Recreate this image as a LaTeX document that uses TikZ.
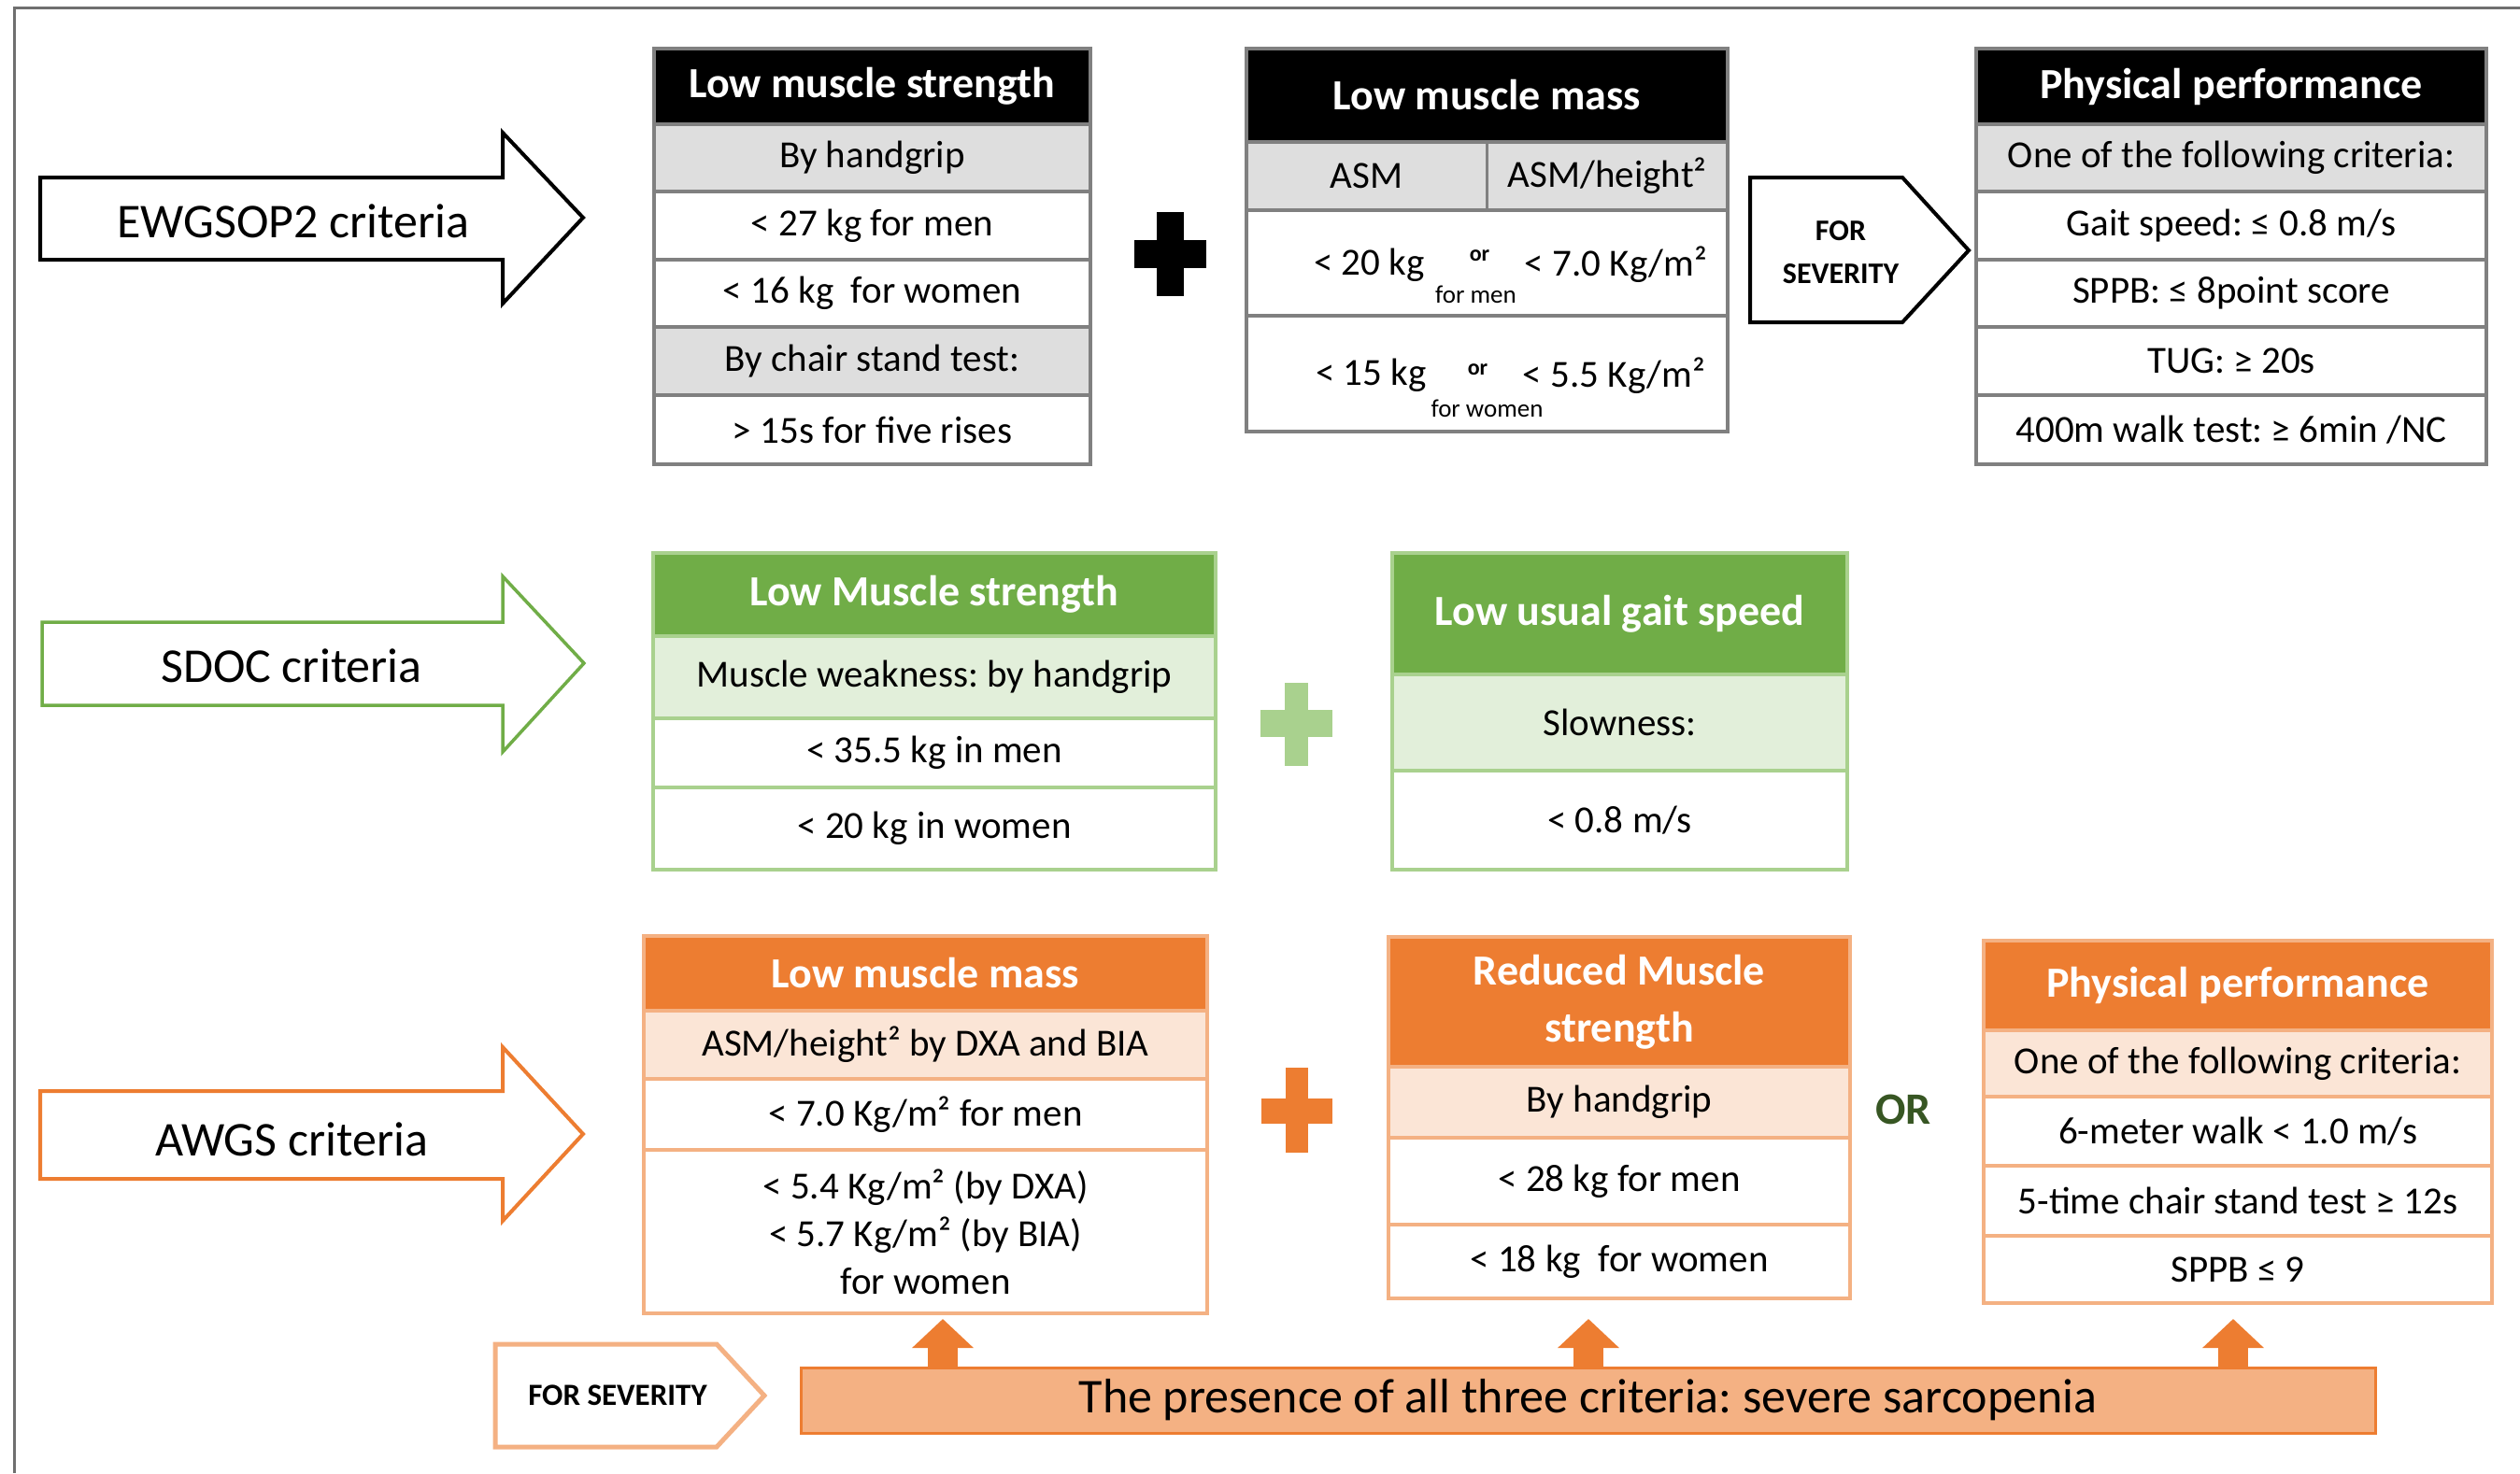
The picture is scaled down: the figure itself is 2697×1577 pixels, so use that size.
\documentclass[tikz,border=0pt]{standalone}
\usepackage{fontspec}
\setmainfont{Carlito}
\usetikzlibrary{arrows.meta,positioning,calc}
\definecolor{frameGray}{HTML}{6F6F6F}
\definecolor{lineGray}{HTML}{808080}
\definecolor{ewgGray}{HTML}{DEDEDE}
\definecolor{sdocGreen}{HTML}{70AD47}
\definecolor{sdocLight}{HTML}{E2EFDA}
\definecolor{sdocLine}{HTML}{A9D18E}
\definecolor{awgsOrange}{HTML}{ED7D31}
\definecolor{awgsLight}{HTML}{FBE5D6}
\definecolor{awgsLine}{HTML}{F4B183}
\definecolor{orGreen}{HTML}{375623}
\tikzset{
  cell/.style={draw=#1, line width=3.5pt, inner sep=0pt, outer sep=0pt, align=center,
    font=\fontsize{41}{51}\selectfont},
  hdr/.style={font=\fontsize{46}{61}\selectfont\bfseries, text=white},
  txt/.style={inner sep=0pt, font=\fontsize{41}{51}\selectfont},
  small/.style={inner sep=0pt, font=\fontsize{27}{30}\selectfont},
  crit/.style={inner sep=0pt, font=\fontsize{52}{60}\selectfont},
  sev/.style={inner sep=0pt, align=center, font=\fontsize{32}{46}\selectfont\bfseries},
  uparrow/.style={draw=awgsOrange, line width=32pt, -{Triangle[width=64pt,length=31pt]}},
}

\begin{document}
\frenchspacing
\begin{tikzpicture}[x=1pt, y=-1pt]
    \useasboundingbox (0,0) rectangle (2697,1577);
    % 边框
    \draw[frameGray, line width=3pt] (15,1577) -- (15,8) -- (2697,8);

    % EWGSOP2 箭头
    \draw[black, line width=4pt, fill=white] (43,190) -- (538,190) -- (538,142) -- (624,233)
        -- (538,325) -- (538,278) -- (43,278) -- cycle;
    \node[crit] (ewg) at (314,237) {EWGSOP2 criteria};

    % 肌力表
    \node[cell=lineGray, fill=black, hdr, minimum width=467, minimum height=81, anchor=north west] (a1) at (700,52) {Low muscle strength};
    \node[cell=lineGray, fill=ewgGray, minimum width=467, minimum height=72, below=0pt of a1] (a2) {By handgrip};
    \node[cell=lineGray, fill=white, minimum width=467, minimum height=73, below=0pt of a2] (a3) {< 27 kg for men};
    \node[cell=lineGray, fill=white, minimum width=467, minimum height=72, below=0pt of a3] (a4) {< 16 kg\ \ for women};
    \node[cell=lineGray, fill=ewgGray, minimum width=467, minimum height=73, below=0pt of a4] (a5) {By chair stand test:};
    \node[cell=lineGray, fill=white, minimum width=467, minimum height=74, below=0pt of a5] (a6) {> 15s for five rises};

    % 加号
    \fill[black] (1238,227) rectangle (1267,317);
    \fill[black] (1214,257) rectangle (1291,287);

    % 肌量表
    \node[cell=lineGray, fill=black, hdr, minimum width=515, minimum height=100, anchor=north west] (b1) at (1334,52) {Low muscle mass};
    \node[cell=lineGray, fill=ewgGray, minimum width=515, minimum height=73, below=0pt of b1] (b2) {};
    \draw[lineGray, line width=3.5pt] (b2.north) -- (b2.south);
    \node[txt] (b2l) at ($(b2.west)!0.5!(b2.center)$) {ASM};
    \node[txt] (b2r) at ($(b2.center)!0.5!(b2.east)$) {ASM/height²};
    \node[cell=lineGray, fill=white, minimum width=515, minimum height=113, below=0pt of b2] (b3) {};
    \node[txt] (b3a) at ($(b3.center)+(-126,2)$) {< 20 kg};
    \node[small, font=\fontsize{24}{28}\selectfont\bfseries] (b3o) at ($(b3.center)+(-8,-8)$) {or};
    \node[txt] (b3b) at ($(b3.center)+(138,2)$) {< 7.0 Kg/m²};
    \node[small] (b3c) at ($(b3.center)+(-12,34)$) {for men};
    \node[cell=lineGray, fill=white, minimum width=515, minimum height=124, below=0pt of b3] (b4) {};
    \node[txt] (b4a) at ($(b4.center)+(-124,2)$) {< 15 kg};
    \node[small, font=\fontsize{24}{28}\selectfont\bfseries] (b4o) at ($(b4.center)+(-10,-4)$) {or};
    \node[txt] (b4b) at ($(b4.center)+(136,2)$) {< 5.5 Kg/m²};
    \node[small] (b4c) at ($(b4.center)+(0,37)$) {for women};

    % 严重程度
    \draw[black, line width=4pt, fill=white] (1873,190) -- (2036,190) -- (2107,268) -- (2036,345) -- (1873,345) -- cycle;
    \node[sev] (sev1) at (1970,270) {FOR\\SEVERITY};

    % 躯体功能表
    \node[cell=lineGray, fill=black, hdr, minimum width=546, minimum height=81, anchor=north west] (c1) at (2115,52) {Physical performance};
    \node[cell=lineGray, fill=ewgGray, minimum width=546, minimum height=72, below=0pt of c1] (c2) {One of the following criteria:};
    \node[cell=lineGray, fill=white, minimum width=546, minimum height=73, below=0pt of c2] (c3) {Gait speed: ≤ 0.8 m/s};
    \node[cell=lineGray, fill=white, minimum width=546, minimum height=72, below=0pt of c3] (c4) {SPPB: ≤ 8point score};
    \node[cell=lineGray, fill=white, minimum width=546, minimum height=73, below=0pt of c4] (c5) {TUG: ≥ 20s};
    \node[cell=lineGray, fill=white, minimum width=546, minimum height=74, below=0pt of c5] (c6) {400m walk test: ≥ 6min /NC};

    % SDOC 箭头
    \draw[sdocGreen, line width=3.5pt, fill=white] (45,666) -- (538,666) -- (538,617) -- (625,710)
        -- (538,805) -- (538,755) -- (45,755) -- cycle;
    \node[crit] (sdoc) at (312,713) {SDOC criteria};

    \node[cell=sdocLine, fill=sdocGreen, hdr, minimum width=602, minimum height=89, anchor=north west] (d1) at (699,592) {Low Muscle strength};
    \node[cell=sdocLine, fill=sdocLight, minimum width=602, minimum height=88, below=0pt of d1] (d2) {Muscle weakness: by handgrip};
    \node[cell=sdocLine, fill=white, minimum width=602, minimum height=74, below=0pt of d2] (d3) {< 35.5 kg in men};
    \node[cell=sdocLine, fill=white, minimum width=602, minimum height=88, below=0pt of d3] (d4) {< 20 kg in women};

    \fill[sdocLine] (1375,731) rectangle (1400,820);
    \fill[sdocLine] (1349,760) rectangle (1426,789);

    \node[cell=sdocLine, fill=sdocGreen, hdr, minimum width=487, minimum height=130, anchor=north west] (e1) at (1490,592) {Low usual gait speed};
    \node[cell=sdocLine, fill=sdocLight, minimum width=487, minimum height=103, below=0pt of e1] (e2) {Slowness:};
    \node[cell=sdocLine, fill=white, minimum width=487, minimum height=106, below=0pt of e2] (e3) {< 0.8 m/s};

    % AWGS 箭头
    \draw[awgsOrange, line width=4pt, fill=white] (43,1168) -- (538,1168) -- (538,1121) -- (624,1214)
        -- (538,1307) -- (538,1262) -- (43,1262) -- cycle;
    \node[crit] (awgs) at (312,1220) {AWGS criteria};

    \node[cell=awgsLine, fill=awgsOrange, hdr, minimum width=603, minimum height=80, anchor=north west] (f1) at (689,1002) {Low muscle mass};
    \node[cell=awgsLine, fill=awgsLight, minimum width=603, minimum height=73, below=0pt of f1] (f2) {ASM/height² by DXA and BIA};
    \node[cell=awgsLine, fill=white, minimum width=603, minimum height=76, below=0pt of f2] (f3) {< 7.0 Kg/m² for men};
    \node[cell=awgsLine, fill=white, minimum width=603, minimum height=175, below=0pt of f3] (f4) {< 5.4 Kg/m² (by DXA)\\< 5.7 Kg/m² (by BIA)\\for women};

    \fill[awgsOrange] (1376,1143) rectangle (1400,1234);
    \fill[awgsOrange] (1350,1176) rectangle (1426,1203);

    \node[cell=awgsLine, fill=awgsOrange, hdr, minimum width=494, minimum height=139, anchor=north west] (g1) at (1486,1003) {Reduced Muscle\\strength};
    \node[cell=awgsLine, fill=awgsLight, minimum width=494, minimum height=76, below=0pt of g1] (g2) {By handgrip};
    \node[cell=awgsLine, fill=white, minimum width=494, minimum height=93, below=0pt of g2] (g3) {< 28 kg for men};
    \node[cell=awgsLine, fill=white, minimum width=494, minimum height=79, below=0pt of g3] (g4) {< 18 kg\ \ for women};

    \node[inner sep=0pt, text=orGreen, font=\fontsize{48}{52}\selectfont\bfseries] (or) at (2037,1188) {OR};

    \node[cell=awgsLine, fill=awgsOrange, hdr, minimum width=544, minimum height=96, anchor=north west] (h1) at (2123,1007) {Physical performance};
    \node[cell=awgsLine, fill=awgsLight, minimum width=544, minimum height=71, below=0pt of h1] (h2) {One of the following criteria:};
    \node[cell=awgsLine, fill=white, minimum width=544, minimum height=74, below=0pt of h2] (h3) {6-meter walk < 1.0 m/s};
    \node[cell=awgsLine, fill=white, minimum width=544, minimum height=75, below=0pt of h3] (h4) {5-time chair stand test ≥ 12s};
    \node[cell=awgsLine, fill=white, minimum width=544, minimum height=72, below=0pt of h4] (h5) {SPPB ≤ 9};

    % 严重肌少症
    \draw[awgsLine, line width=5pt, fill=white] (530,1439) -- (767,1439) -- (818,1494) -- (767,1549) -- (530,1549) -- cycle;
    \node[sev, font=\fontsize{33}{38}\selectfont\bfseries] (sev2) at (661,1494) {FOR SEVERITY};

    \node[draw=awgsOrange, line width=3pt, fill=awgsLine, inner sep=0pt, minimum width=1685, minimum height=70,
        font=\fontsize{52}{58}\selectfont] (bar) at (1699.5,1499) {The presence of all three criteria: severe sarcopenia};

    \coordinate (t1) at (1009,1412);
    \coordinate (t2) at (1700,1412);
    \coordinate (t3) at (2390,1412);
    \draw[uparrow] (bar.north -| t1) -- (t1);
    \draw[uparrow] (bar.north -| t2) -- (t2);
    \draw[uparrow] (bar.north -| t3) -- (t3);
\end{tikzpicture}
\end{document}
